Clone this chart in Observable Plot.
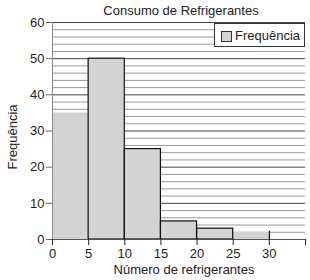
<!DOCTYPE html>
<html><head><meta charset="utf-8">
<script src="https://cdn.jsdelivr.net/npm/d3@7"></script>
<script src="https://cdn.jsdelivr.net/npm/@observablehq/plot@0.6"></script>
<style>
body{margin:0;background:#fff;font-family:"Liberation Sans",Arial,sans-serif;}
#wrap{position:relative;width:310px;height:280px;}
#chart{position:absolute;left:0;top:0;}
.lbl{position:absolute;font-size:13px;color:#222;white-space:nowrap;transform:translate(-50%,-50%);line-height:15px;}
#title{left:181px;top:10px;}
#xlabel{left:184px;top:269px;}
#ylabel{left:12px;top:137px;transform:translate(-50%,-50%) rotate(-90deg);}
#legend{position:absolute;left:214px;top:23px;width:91px;height:24px;background:#fff;border:1px solid #333;box-sizing:border-box;font-size:13px;color:#222;display:flex;align-items:center;}
#legend span.sw{display:inline-block;width:9px;height:9px;background:#d3d3d3;border:1px solid #333;margin:3px 3px 0 6px;}
</style></head>
<body><div id="wrap"><div id="chart"></div>
<div class="lbl" id="title">Consumo de Refrigerantes</div>
<div class="lbl" id="xlabel">Número de refrigerantes</div>
<div class="lbl" id="ylabel">Frequência</div>
<div id="legend"><span class="sw"></span>Frequência</div></div>
<script>
const binStart = [0, 5, 10, 15, 20, 25];
const binEnd = [5, 10, 15, 20, 25, 30];
const frequencia = [35, 50, 25, 5, 3, 2];
const xTicks = [0, 5, 10, 15, 20, 25, 30, 35];
const yTicks = [0, 10, 20, 30, 40, 50, 60];

const bins = binStart.map((s, i) => ({x1: s, x2: binEnd[i], y: frequencia[i], i}));
const minorGrid = d3.range(2, 61, 2).filter(v => v % 10 !== 0);
const majorGrid = [10, 20, 30, 40, 50, 60];
const outlined = bins.filter(b => b.i > 0 && b.i < bins.length - 1);
const last = bins[bins.length - 1];

const chart = Plot.plot({
  width: 310, height: 280,
  marginLeft: 52, marginRight: 5, marginTop: 22, marginBottom: 41,
  style: {fontFamily: '"Liberation Sans", Arial, sans-serif', fontSize: "13px", color: "#222"},
  x: {domain: [0, 35]},
  y: {domain: [0, 60]},
  marks: [
    Plot.ruleY(minorGrid, {stroke: "#9a9a9a", strokeWidth: 1}),
    Plot.ruleY(majorGrid, {stroke: "#444", strokeWidth: 1}),
    Plot.rectY(bins, {x1: "x1", x2: "x2", y: "y", fill: "#d3d3d3", inset: 0}),
    Plot.rectY(outlined, {x1: "x1", x2: "x2", y: "y", fill: "none", stroke: "#111", strokeWidth: 1.2, inset: 0}),
    Plot.ruleX([last], {x: "x2", y1: 0, y2: d => d.y + 0.3, stroke: "#111", strokeWidth: 1.2}),
    Plot.ruleX([0], {stroke: "#888"}),
    Plot.ruleY([0], {stroke: "#555", strokeWidth: 1.2}),
    Plot.axisY({ticks: yTicks, tickSize: 6, tickPadding: 2, stroke: "#666", label: null, fontSize: 13}),
    Plot.axisX({ticks: xTicks, tickSize: 6, tickPadding: 3, stroke: "#222", tickFormat: d => d === 35 ? "" : d, label: null, fontSize: 13})
  ]
});
document.getElementById("chart").appendChild(chart);
</script></body></html>
